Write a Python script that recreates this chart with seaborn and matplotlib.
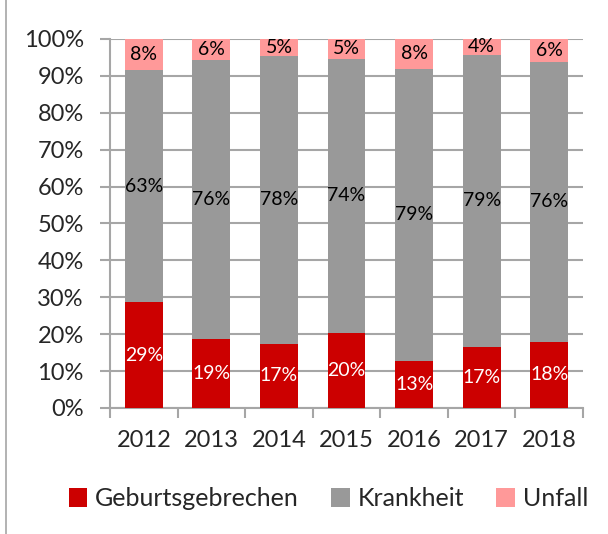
import pandas as pd
import matplotlib.pyplot as plt
import seaborn as sns
from matplotlib.patches import Patch
from matplotlib.lines import Line2D

years = ["2012", "2013", "2014", "2015", "2016", "2017", "2018"]
geburtsgebrechen = [28.6, 18.7, 17.4, 20.3, 12.7, 16.6, 18.0]
krankheit = [63.0, 75.7, 78.0, 74.4, 79.2, 79.1, 75.8]
unfall = [8.4, 5.6, 4.6, 5.3, 8.1, 4.3, 6.2]
series = ["Geburtsgebrechen", "Krankheit", "Unfall"]
colors = ["#CC0000", "#999999", "#FF9999"]

df = pd.DataFrame({"Jahr": years, "Geburtsgebrechen": geburtsgebrechen,
                   "Krankheit": krankheit, "Unfall": unfall})
df["c1"] = df["Geburtsgebrechen"]
df["c2"] = df["c1"] + df["Krankheit"]
df["c3"] = df["c2"] + df["Unfall"]

sns.set_style("white")
plt.rcParams["font.family"] = ["Lato", "DejaVu Sans"]

fig = plt.figure(figsize=(6.08, 5.34), dpi=100)
ax = fig.add_axes([0.181, 0.236, 0.778, 0.691])

# stacked look: draw cumulative totals from the top down
for col, c in zip(["c3", "c2", "c1"], colors[::-1]):
    sns.barplot(data=df, x="Jahr", y=col, color=c, width=0.56,
                saturation=1, ax=ax, zorder=3, linewidth=0)

# value labels centered in each segment
for i, row in df.iterrows():
    bottoms = [0, row["c1"], row["c2"]]
    for s, b, tc in zip(series, bottoms, ["white", "black", "black"]):
        v = row[s]
        ax.text(i, b + v / 2, f"{v:.0f}%", ha="center", va="center",
                fontsize=14, color=tc, zorder=4)

ax.set_ylim(0, 100)
ax.set_xlim(-0.5, len(years) - 0.5)
ax.set_yticks(range(0, 101, 10))
ax.set_yticklabels([f"{t}%" for t in range(0, 101, 10)])
ax.yaxis.grid(True, color="#A6A6A6", linewidth=1.5, zorder=0)
ax.set_axisbelow(True)
ax.set_xlabel("")
ax.set_ylabel("")

for sp in ["top", "right"]:
    ax.spines[sp].set_visible(False)
for sp in ["left", "bottom"]:
    ax.spines[sp].set_color("#A6A6A6")
    ax.spines[sp].set_linewidth(1.5)

ax.tick_params(axis="y", which="major", left=True, length=7, width=1.5,
               color="#A6A6A6", labelsize=17, pad=12)
# x ticks between the categories, labels centered under bars
ax.set_xticks([i - 0.5 for i in range(len(years) + 1)], minor=True)
ax.tick_params(axis="x", which="minor", bottom=True, length=7, width=1.5,
               color="#A6A6A6")
ax.tick_params(axis="x", which="major", bottom=False, labelsize=17, pad=12)

handles = [Patch(facecolor=c, edgecolor="none") for c in colors]
fig.legend(handles, series, loc="center", bbox_to_anchor=(0.54, 0.066),
           ncol=3, frameon=False, fontsize=18, handlelength=0.75,
           handleheight=0.75, handletextpad=0.3, columnspacing=1.3)

# left frame line of the original chart area
fig.add_artist(Line2D([0.01, 0.01], [0, 1], color="#A6A6A6", linewidth=1.2,
                      transform=fig.transFigure))

fig.savefig("out.png", dpi=100)
